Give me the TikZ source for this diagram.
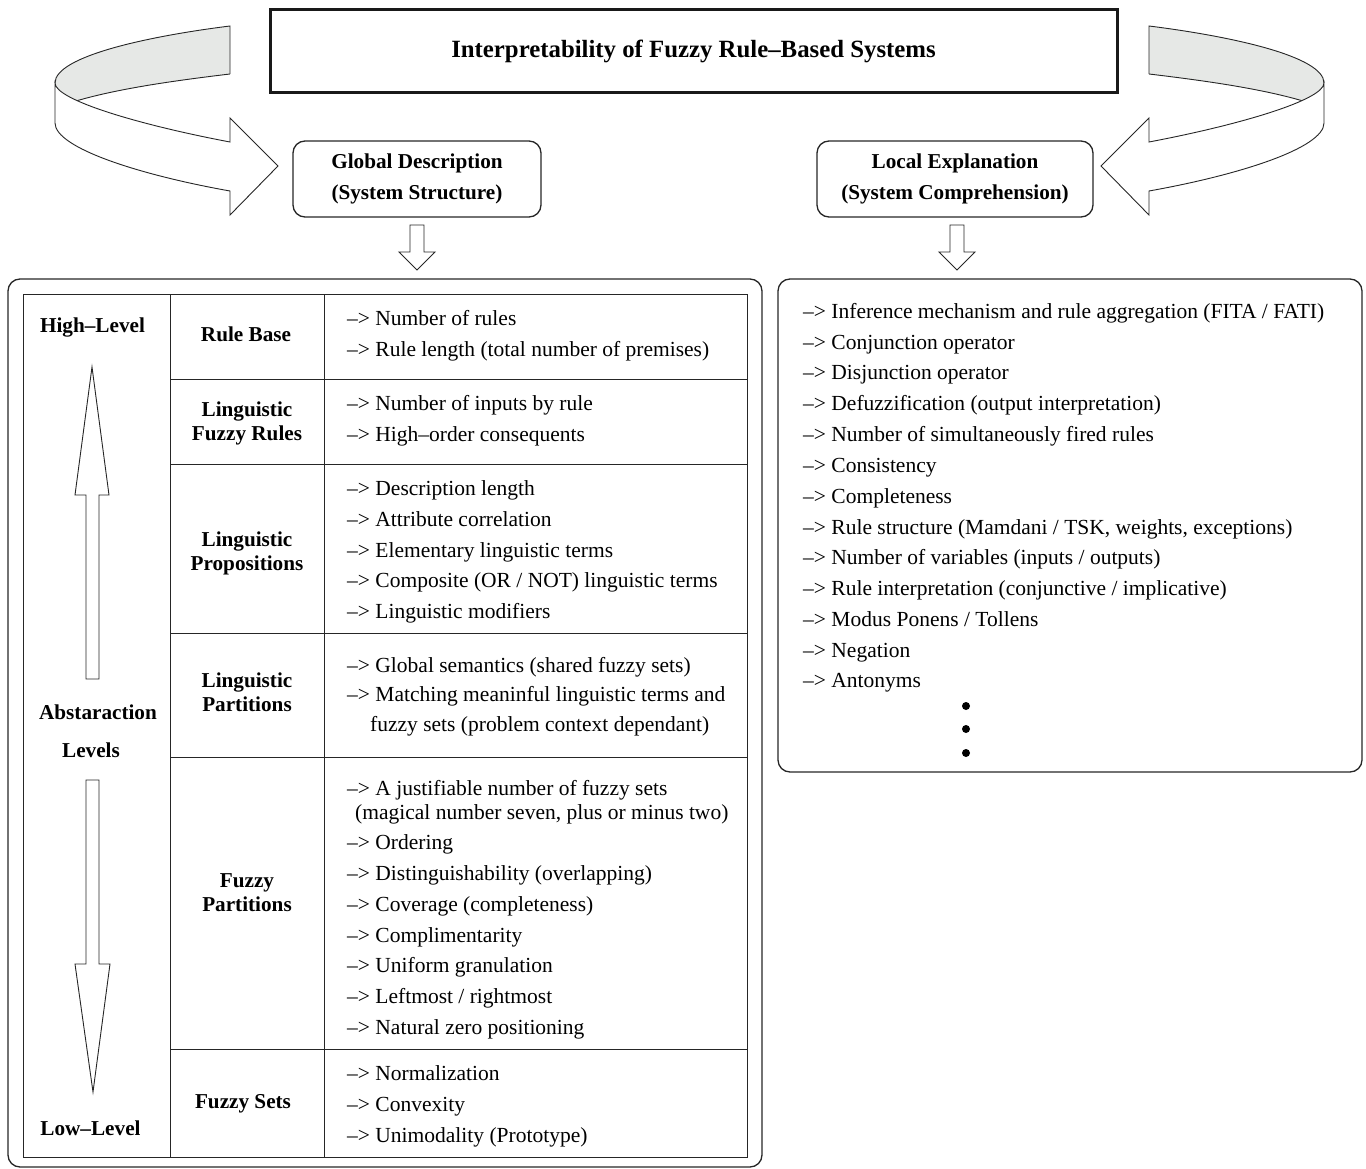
\documentclass[tikz,border=0pt]{standalone}
\usepackage{fontspec}
\setmainfont{Liberation Serif}
\definecolor{ribbongray}{HTML}{E6E8E6}
\newcommand\ribbonarrow{%
  \fill[ribbongray] (230,26) .. controls (150,36) and (55,56) .. (55,83)
    .. controls (55,92) and (62,98) .. (76,101)
    .. controls (120,88) and (180,80) .. (230,74) -- cycle;
  \draw[rib] (230,74) -- (230,26) .. controls (150,36) and (55,56) .. (55,83);
  \draw[rib] (76,101) .. controls (120,88) and (180,80) .. (230,74);
  \draw[rib,fill=white] (55,83) .. controls (55,100) and (140,125) .. (230,142)
    -- (230,118) -- (278,166) -- (230,215) -- (230,191)
    .. controls (140,175) and (55,148) .. (55,123) -- cycle;
}
\begin{document}
\begin{tikzpicture}[x=1pt,y=-1pt,
  rib/.style={draw=black!85,line width=0.9pt,line join=miter},
  tline/.style={draw=black!85,line width=1pt},
  rbox/.style={draw=black!85,line width=1.3pt,rounded corners=12pt},
  item/.style={anchor=base west,inner sep=0pt,font=\fontsize{21.5}{24}\selectfont},
  lab/.style={align=center,inner sep=0pt,font=\fontsize{21.2}{24}\selectfont\bfseries},
  hollow/.style={draw=black!85,line width=0.9pt,fill=white,line join=miter}]
\useasboundingbox (0,0) rectangle (1366,1169);

% title
\node[draw=black!90,line width=3pt,minimum width=847pt,minimum height=83pt,inner sep=0pt,
  font=\fontsize{24.8}{28}\selectfont\bfseries] (title) at (693.5,51.5)
  {Interpretability of Fuzzy Rule–Based Systems};

% curved ribbon arrows
\ribbonarrow
\begin{scope}[shift={(1379,0)},xscale=-1]
\ribbonarrow
\end{scope}

% description boxes
\node[rbox,lab,minimum width=248pt,minimum height=76pt] (glob) at (417,179)
  {Global Description\\[7pt](System Structure)};
\node[rbox,lab,minimum width=276pt,minimum height=76pt] (loc) at (955,179)
  {Local Explanation\\[7pt](System Comprehension)};

% big boxes
\node[rbox,minimum width=754pt,minimum height=888pt,inner sep=0pt] (lbox) at (385,723) {};
\node[rbox,minimum width=584pt,minimum height=493pt,inner sep=0pt] (rbx) at (1070,525.5) {};

% small hollow down arrows
\draw[hollow] (410,225) -- (424,225) -- (424,252) -- (435,252) -- (417,270) -- (399,252) -- (410,252) -- cycle;
\draw[hollow] (950,225) -- (964,225) -- (964,252) -- (975,252) -- (957,270) -- (939,252) -- (950,252) -- cycle;

% table
\draw[tline] (23,294) rectangle (747,1157);
\draw[tline] (170,294) -- (170,1157);
\draw[tline] (324,294) -- (324,1157);
\foreach \yy in {379,464,633,757,1049} \draw[tline] (170,\yy) -- (747,\yy);

% left column
\node[lab] (hi) at (92.5,327) {High–Level};
\node[lab] (abs) at (98,712) {Abstaraction};
\node[lab] (lev) at (91,750) {Levels};
\node[lab] (lo) at (90.5,1128) {Low–Level};
\draw[hollow] (92,367) -- (109,495) -- (99,495) -- (99,679) -- (86,679) -- (86,495) -- (75,495) -- cycle;
\draw[hollow] (86,780) -- (99,780) -- (99,964) -- (110,964) -- (93,1092) -- (75,964) -- (86,964) -- cycle;

% second column
\node[lab] (rb) at (246,334) {Rule Base};
\node[lab] (lfr) at (247,423) {Linguistic\\Fuzzy Rules};
\node[lab] (lp) at (247,553) {Linguistic\\Propositions};
\node[lab] (lpa) at (247,692) {Linguistic\\Partitions};
\node[lab] (fp) at (247,893) {Fuzzy\\Partitions};
\node[lab] (fs) at (243,1104) {Fuzzy Sets};

% third column items
\foreach \y/\t in {318/{Number of rules},349/{Rule length (total number of premises)},
  403/{Number of inputs by rule},434/{High–order consequents},
  488/{Description length},519/{Attribute correlation},550/{Elementary linguistic terms},
  580/{Composite (OR / NOT) linguistic terms},611/{Linguistic modifiers},
  665/{Global semantics (shared fuzzy sets)},694/{Matching meaninful linguistic terms and},
  788/{A justifiable number of fuzzy sets},842/{Ordering},873/{Distinguishability (overlapping)},
  904/{Coverage (completeness)},935/{Complimentarity},965/{Uniform granulation},
  996/{Leftmost / rightmost},1027/{Natural zero positioning},
  1073/{Normalization},1104/{Convexity},1135/{Unimodality (Prototype)}}
  \node[item] (l\y) at (347,\y+7) {–> \t};
\node[item] (l724) at (370,731) {fuzzy sets (problem context dependant)};
\node[item] (l812) at (355,819) {(magical number seven, plus or minus two)};

% right list
\foreach \y/\t in {311/{Inference mechanism and rule aggregation (FITA / FATI)},
  342/{Conjunction operator},372/{Disjunction operator},
  403/{Defuzzification (output interpretation)},434/{Number of simultaneously fired rules},
  465/{Consistency},496/{Completeness},527/{Rule structure (Mamdani / TSK, weights, exceptions)},
  557/{Number of variables (inputs / outputs)},588/{Rule interpretation (conjunctive / implicative)},
  619/{Modus Ponens / Tollens},650/{Negation},680/{Antonyms}}
  \node[item] (r\y) at (803,\y+7) {–> \t};
\foreach \y in {706,729,753}
  \node[circle,fill=black,inner sep=0pt,minimum size=8pt] (d\y) at (966,\y) {};
\end{tikzpicture}
\end{document}
